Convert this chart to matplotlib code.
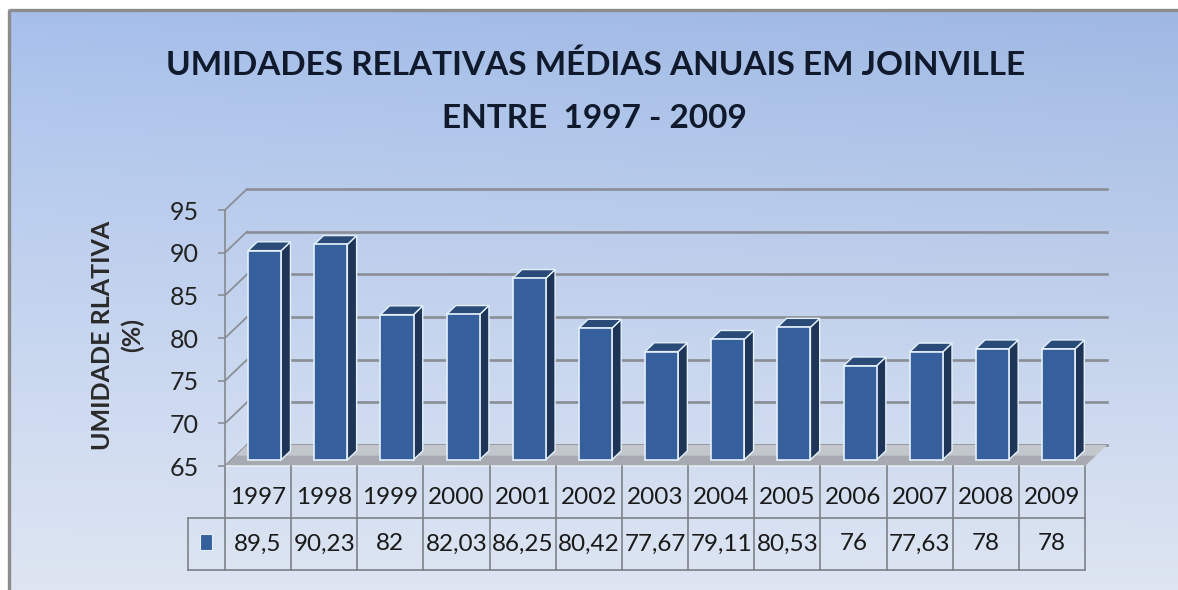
import numpy as np
import matplotlib
matplotlib.use("Agg")
import matplotlib.pyplot as plt
from matplotlib.patches import Polygon, Rectangle
from matplotlib.transforms import blended_transform_factory

# ---------------- data ----------------
years = ["1997", "1998", "1999", "2000", "2001", "2002", "2003",
         "2004", "2005", "2006", "2007", "2008", "2009"]
umidade = [89.5, 90.23, 82, 82.03, 86.25, 80.42, 77.67,
           79.11, 80.53, 76, 77.63, 78, 78]
value_labels = ["89,5", "90,23", "82", "82,03", "86,25", "80,42", "77,67",
                "79,11", "80,53", "76", "77,63", "78", "78"]
y_ticks = [65, 70, 75, 80, 85, 90, 95]
title_line1 = "UMIDADES RELATIVAS MÉDIAS ANUAIS EM JOINVILLE"
title_line2 = "ENTRE  1997 - 2009"
y_label1 = "UMIDADE RLATIVA"
y_label2 = "(%)"

# ---------------- style ----------------
FONT = "Lato"
plt.rcParams["font.family"] = [FONT, "DejaVu Sans"]
W, H = 1178, 590
GRID = "#8a8e96"
FRONT = "#35609b"
SIDE = "#1e3558"
TOP = "#2a4a78"
EDGE = "#e4f1fb"
TXT = "#1a1a1a"

fig = plt.figure(figsize=(W / 100, H / 100), dpi=100)
fig.patch.set_facecolor("white")

# background with gradient and frame
bg = fig.add_axes([0, 0, 1, 1])
bg.set_xlim(0, W)
bg.set_ylim(H, 0)
bg.axis("off")
ny, nx = 200, 200
t = np.linspace(0, 1, ny)[:, None, None]
s = np.linspace(0, 1, nx)[None, :, None]
top_c = np.array([0.62, 0.72, 0.89])
bot_c = np.array([0.87, 0.90, 0.95])
img = top_c + (bot_c - top_c) * t ** 0.9 + 0.03 * (1 - s) * (1 - t)
img = np.clip(img, 0, 1)
bg.imshow(img, extent=[8, W, H, 9], aspect="auto", interpolation="bilinear", zorder=0)
bg.plot([8.5, 8.5], [H, 9.5], color="#8c8c8c", lw=2.4, solid_capstyle="butt")
bg.plot([8.5, W], [9.5, 9.5], color="#8c8c8c", lw=2.4, solid_capstyle="butt")

# titles
fig.text(596 / W, 1 - 65 / H, title_line1, ha="center", va="center",
         fontsize=24, fontweight="bold", color="#101a2c")
fig.text(594 / W, 1 - 118 / H, title_line2, ha="center", va="center",
         fontsize=24, fontweight="bold", color="#101a2c")

# main axes (front plane)
ax = fig.add_axes([225 / W, (H - 466) / H, 860 / W, (466 - 210) / H])
ax.set_xlim(-0.5, len(years) - 0.5)
ax.set_ylim(y_ticks[0], y_ticks[-1])
ax.patch.set_alpha(0)
ax.set_xticks([])
ax.set_yticks(y_ticks)
ax.set_yticklabels([str(v) for v in y_ticks])
ax.tick_params(axis="y", direction="out", length=5, width=1.2, color=GRID,
               labelsize=18, labelcolor="#222222", pad=14)
for k in ["top", "right", "bottom"]:
    ax.spines[k].set_visible(False)
ax.spines["left"].set_color(GRID)
ax.spines["left"].set_linewidth(1.3)

px_per_cat = 860 / len(years)
px_per_val = 256 / (y_ticks[-1] - y_ticks[0])
DX = 22 / px_per_cat
DY = 21 / px_per_val
x0, x1 = -0.5, len(years) - 0.5
ymin = y_ticks[0]


def P(x, y, f):
    return (x + f * DX, y + f * DY)


# back wall gridlines + side wall diagonals
for v in y_ticks:
    a, b = P(x0, v, 1), P(x1, v, 1)
    ax.plot([a[0], b[0]], [a[1], b[1]], color=GRID, lw=1.9, clip_on=False, zorder=1)
    c = P(x0, v, 0)
    ax.plot([c[0], a[0]], [c[1], a[1]], color=GRID, lw=1.3, clip_on=False, zorder=1)

# floor (two bands for a light gradient)
floor_back = Polygon([P(x0, ymin, 0.5), P(x1, ymin, 0.5), P(x1, ymin, 1), P(x0, ymin, 1)],
                     closed=True, facecolor="#c3c7cc", edgecolor="none",
                     clip_on=False, zorder=2)
floor_front = Polygon([P(x0, ymin, 0), P(x1, ymin, 0), P(x1, ymin, 0.5), P(x0, ymin, 0.5)],
                      closed=True, facecolor="#a7abb1", edgecolor="none",
                      clip_on=False, zorder=2)
ax.add_patch(floor_back)
ax.add_patch(floor_front)
ax.plot([x0, x1], [ymin, ymin], color="#e6ecf3", lw=1.2, clip_on=False, zorder=2)

# 3D bars
f0, f1 = 0.30, 0.72
bw = 0.5
xs = np.arange(len(years))
ax.bar(xs + f0 * DX, np.array(umidade) - ymin, bottom=ymin + f0 * DY, width=bw,
       color=FRONT, edgecolor=EDGE, linewidth=1.2, clip_on=False, zorder=4)
for i, v in enumerate(umidade):
    r = i + bw / 2
    l = i - bw / 2
    side = Polygon([P(r, ymin, f0), P(r, v, f0), P(r, v, f1), P(r, ymin, f1)],
                   closed=True, facecolor=SIDE, edgecolor=EDGE, lw=1.0,
                   clip_on=False, zorder=3)
    topf = Polygon([P(l, v, f0), P(r, v, f0), P(r, v, f1), P(l, v, f1)],
                   closed=True, facecolor=TOP, edgecolor=EDGE, lw=1.0,
                   clip_on=False, zorder=3)
    ax.add_patch(side)
    ax.add_patch(topf)

# y-axis label
fig.text(103 / W, 1 - 335 / H, y_label1, rotation=90, ha="center", va="center",
         fontsize=18, fontweight="bold", color="#2a2a2a")
fig.text(132 / W, 1 - 335 / H, y_label2, rotation=90, ha="center", va="center",
         fontsize=18, fontweight="bold", color="#2a2a2a")

# data table
tr = blended_transform_factory(ax.transData, fig.transFigure)


def yf(px):
    return 1 - px / H


TL = "#7d8288"
legend_left = x0 - 37 / px_per_cat
for k in range(len(years) + 1):
    xb = x0 + k
    ax.plot([xb, xb], [yf(466), yf(570)], color=TL, lw=1.2, transform=tr,
            clip_on=False, zorder=2)
ax.plot([legend_left, x1], [yf(518), yf(518)], color=TL, lw=1.2, transform=tr, clip_on=False)
ax.plot([legend_left, x1], [yf(570), yf(570)], color=TL, lw=1.2, transform=tr, clip_on=False)
ax.plot([legend_left, legend_left], [yf(518), yf(570)], color=TL, lw=1.2, transform=tr,
        clip_on=False)
for i in range(len(years)):
    ax.text(i, yf(497), years[i], ha="center", va="center", fontsize=17.5,
            color=TXT, transform=tr, clip_on=False)
    ax.text(i, yf(544), value_labels[i], ha="center", va="center", fontsize=17.5,
            color=TXT, transform=tr, clip_on=False)
sq_w = 12 / px_per_cat
ax.add_patch(Rectangle((legend_left + 12 / px_per_cat, yf(550)), sq_w, 16 / H,
                       transform=tr, facecolor=FRONT, edgecolor=EDGE, lw=0.8,
                       clip_on=False))

fig.savefig("out.png", dpi=100)
